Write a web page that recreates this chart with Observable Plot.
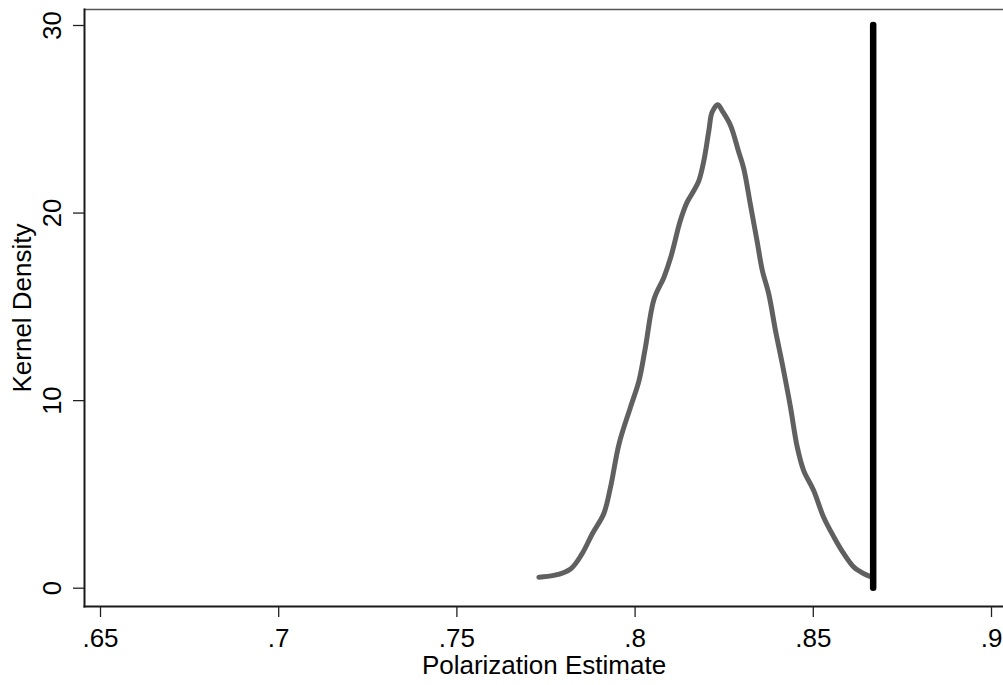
<!DOCTYPE html>
<html>
<head>
<meta charset="utf-8">
<script src="https://cdn.jsdelivr.net/npm/d3@7"></script>
<script src="https://cdn.jsdelivr.net/npm/@observablehq/plot@0.6"></script>
<style>
  html, body { margin: 0; padding: 0; background: #fff; }
  #chart svg { display: block; }
</style>
</head>
<body>
<div id="chart"></div>
<script>
// Kernel density of polarization estimate
const densX = [0.7730, 0.7772, 0.7819, 0.7851, 0.7880, 0.7912, 0.7931, 0.7955, 0.7987, 0.8011, 0.8029,
  0.8053, 0.8081, 0.8100, 0.8127, 0.8146, 0.8165, 0.8179, 0.8193, 0.8207, 0.8216, 0.8232, 0.8244,
  0.8268, 0.8291, 0.8305, 0.8324, 0.8342, 0.8357, 0.8375, 0.8394, 0.8413, 0.8436, 0.8455, 0.8473,
  0.8501, 0.8529, 0.8558, 0.8586, 0.8614, 0.8642, 0.8665];
const densY = [0.59, 0.68, 1.03, 1.83, 2.90, 3.97, 5.38, 7.70, 9.65, 11.07, 12.85,
  15.40, 16.58, 17.64, 19.60, 20.58, 21.20, 21.73, 22.80, 24.40, 25.37, 25.78, 25.46,
  24.66, 23.24, 22.36, 20.40, 18.53, 16.94, 15.69, 13.73, 11.96, 9.65, 7.52, 6.27,
  5.21, 3.78, 2.72, 1.83, 1.12, 0.77, 0.59];

// Observed (actual) estimate shown as the vertical line
const observedValue = [0.8668];
const observedSpan = [0, 30];

const xTicks = [0.65, 0.70, 0.75, 0.80, 0.85, 0.90];
const xTickLabels = [".65", ".7", ".75", ".8", ".85", ".9"];
const yTicks = [0, 10, 20, 30];
const yTickLabels = ["0", "10", "20", "30"];
const xTitle = "Polarization Estimate";
const yTitle = "Kernel Density";

const density = densX.map((x, i) => ({x, y: densY[i]}));
const font = "'Liberation Sans', Arial, Helvetica, sans-serif";

const chart = Plot.plot({
  width: 1003,
  height: 685,
  marginLeft: 84,
  marginRight: 0,
  marginTop: 9,
  marginBottom: 79,
  style: {fontFamily: font, background: "#fff", color: "#000"},
  x: {domain: [0.65, 0.90], range: [100, 991]},
  y: {domain: [0, 30], range: [587.7, 25]},
  marks: [
    Plot.frame({anchor: "top", stroke: "#555", strokeWidth: 1.3}),
    Plot.frame({anchor: "left", stroke: "#1a1a1a", strokeWidth: 2}),
    Plot.frame({anchor: "bottom", stroke: "#1a1a1a", strokeWidth: 2}),
    Plot.axisX({
      ticks: xTicks,
      tickFormat: () => "",
      tickSize: 11,
      stroke: "#222",
      strokeWidth: 1.3,
      label: null
    }),
    Plot.axisY({
      ticks: yTicks,
      tickFormat: () => "",
      tickSize: 11,
      stroke: "#222",
      strokeWidth: 1.3,
      label: null
    }),
    Plot.text(xTicks, {
      x: (d) => d,
      text: (d, i) => xTickLabels[i],
      frameAnchor: "bottom",
      dy: 22,
      textAnchor: "middle",
      lineAnchor: "top",
      fontSize: 26,
      fill: "#000"
    }),
    Plot.text(yTicks, {
      y: (d) => d,
      text: (d, i) => yTickLabels[i],
      frameAnchor: "left",
      dx: -31.5,
      rotate: -90,
      textAnchor: "middle",
      lineAnchor: "middle",
      fontSize: 25.5,
      fill: "#000"
    }),
    Plot.text([xTitle], {
      frameAnchor: "bottom",
      dy: 49.5,
      lineAnchor: "top",
      textAnchor: "middle",
      fontSize: 26,
      fill: "#000"
    }),
    Plot.text([yTitle], {
      frameAnchor: "left",
      dx: -61.5,
      rotate: -90,
      textAnchor: "middle",
      lineAnchor: "middle",
      fontSize: 26,
      fill: "#000"
    }),
    Plot.line(density, {
      x: "x", y: "y",
      stroke: "#606060",
      strokeWidth: 5,
      curve: "catmull-rom",
      strokeLinecap: "round",
      strokeLinejoin: "round"
    }),
    Plot.ruleX(observedValue, {
      x: (d) => d,
      y1: observedSpan[0],
      y2: observedSpan[1],
      stroke: "#000",
      strokeWidth: 6.5,
      strokeLinecap: "round"
    })
  ]
});
document.getElementById("chart").append(chart);
</script>
</body>
</html>
